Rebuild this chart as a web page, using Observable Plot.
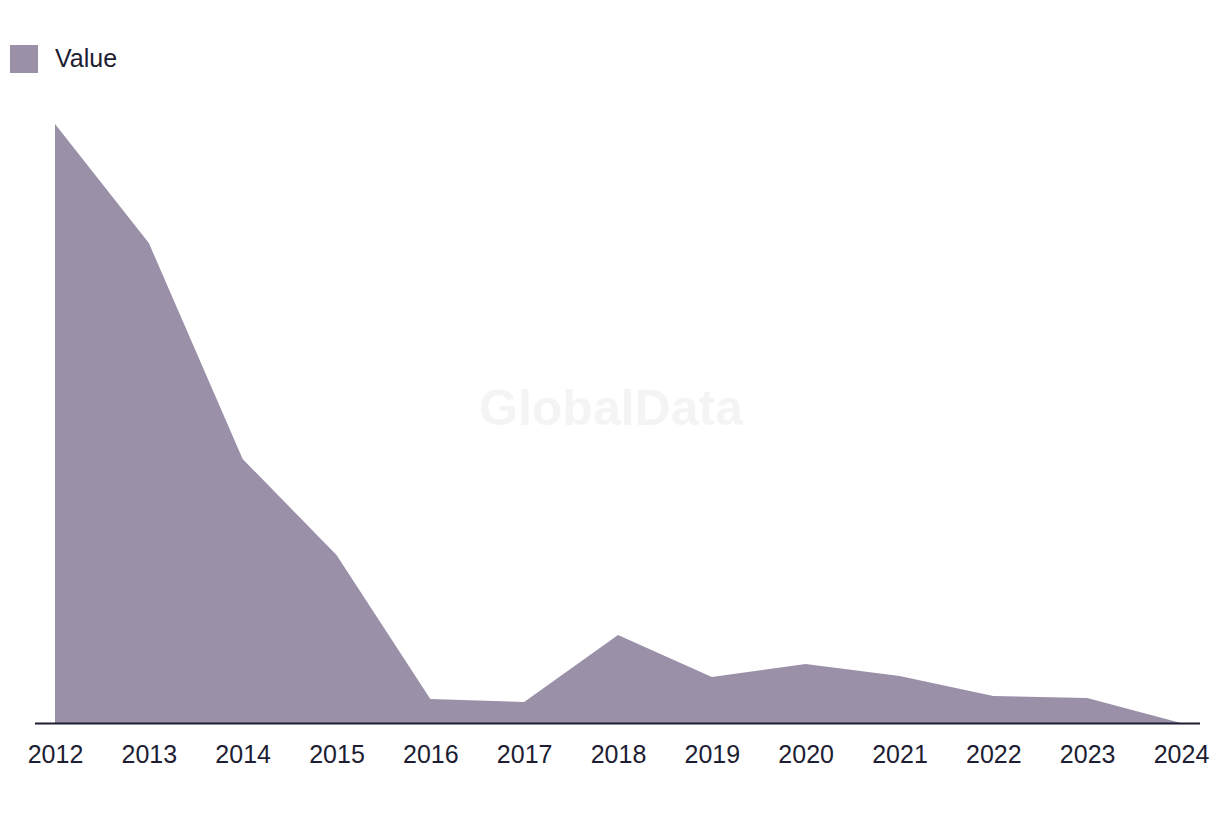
<!DOCTYPE html>
<html>
<head>
<meta charset="utf-8">
<script src="https://cdn.jsdelivr.net/npm/d3@7"></script>
<script src="https://cdn.jsdelivr.net/npm/@observablehq/plot@0.6"></script>
<style>
  html, body { margin: 0; padding: 0; background: #fff; }
  body { width: 1220px; height: 816px; overflow: hidden; font-family: "Liberation Sans", Arial, sans-serif; color: #1d1d33; }
  #legend { height: 90px; position: relative; }
  #legend .sw { position: absolute; left: 10px; top: 45px; width: 28px; height: 28px; background: #9a91a9; }
  #legend .lb { position: absolute; left: 55px; top: 44px; font-size: 25px; line-height: 28px; }
</style>
</head>
<body>
<div id="legend"><span class="sw"></span><span class="lb">Value</span></div>
<div id="chart"></div>
<script>
const years = [2012, 2013, 2014, 2015, 2016, 2017, 2018, 2019, 2020, 2021, 2022, 2023, 2024];
const values = [599, 480, 264, 168, 24, 21, 88, 46, 59, 47, 27, 25, 0];
const seriesName = "Value";
const watermark = "GlobalData";

const data = years.map((y, i) => ({year: y, value: values[i], series: seriesName}));

const chart = Plot.plot({
  width: 1220,
  height: 726,
  marginLeft: 35,
  marginRight: 20,
  marginTop: 34,
  marginBottom: 93,
  insetLeft: 20,
  insetRight: 19,
  style: { fontFamily: "'Liberation Sans', Arial, sans-serif", fontSize: "25px", color: "#1d1d33", background: "#fff" },
  x: { domain: [2012, 2024], ticks: years, tickFormat: d => String(d), tickSize: 0, tickPadding: 22, label: null },
  y: { axis: null },
  marks: [
    Plot.text([watermark], { frameAnchor: "middle", dx: -7, dy: -15, fontSize: 50, fontWeight: "bold", fill: "#f4f4f4" }),
    Plot.areaY(data, { x: "year", y: "value", fill: "#9a91a9" }),
    Plot.ruleY([0], { stroke: "#1d1d33", strokeWidth: 2 })
  ]
});
document.getElementById("chart").appendChild(chart);
</script>
</body>
</html>
